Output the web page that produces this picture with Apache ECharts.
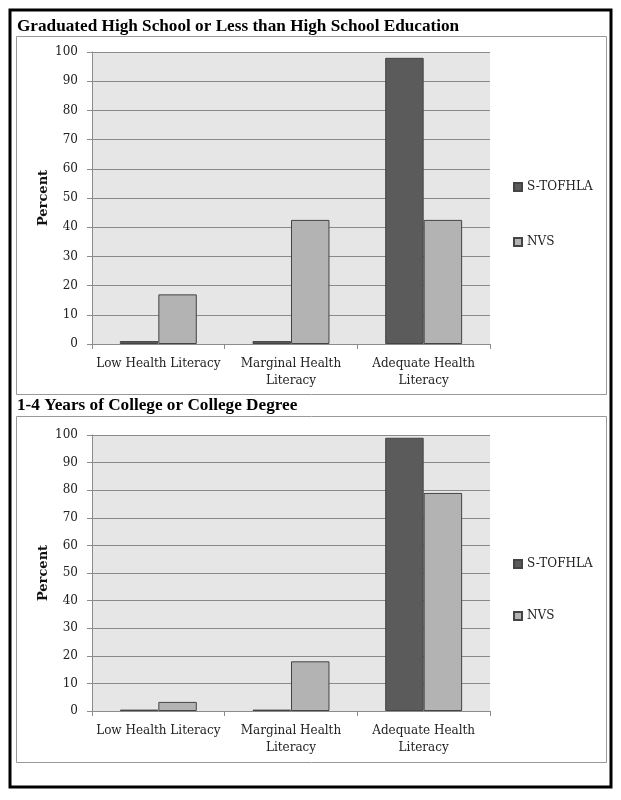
<!DOCTYPE html>
<html>
<head>
<meta charset="UTF-8">
<title>Health literacy by education</title>
<script src="https://cdn.jsdelivr.net/npm/echarts@6/dist/echarts.min.js"></script>
<style>
  html, body { margin: 0; padding: 0; background: #fff; }
  #chart { width: 621px; height: 800px; }
</style>
</head>
<body>
<div id="chart"></div>
<script>
// data
const categories = ['Low Health Literacy', 'Marginal Health\nLiteracy', 'Adequate Health\nLiteracy'];
const seriesNames = ['S-TOFHLA', 'NVS'];
const hsTofhla = [1, 1, 98];
const hsNvs = [17, 42.5, 42.5];
const colTofhla = [0.5, 0.5, 99];
const colNvs = [3.3, 18, 79];
const titles = ['Graduated High School or Less than High School Education', '1-4 Years of College or College Degree'];

const serif = 'DejaVu Serif';
const dark = '#5b5b5b', light = '#b3b3b3';

const chart = echarts.init(document.getElementById('chart'));

function xAxisFor(i) {
  return {
    type: 'category', gridIndex: i, data: categories,
    axisLine: { lineStyle: { color: '#8c8c8c' } },
    axisTick: { show: true, length: 5, lineStyle: { color: '#8c8c8c' } },
    axisLabel: { color: '#222', fontFamily: serif, fontSize: 12, lineHeight: 17, margin: 11, interval: 0 }
  };
}
function yAxisFor(i) {
  return {
    type: 'value', gridIndex: i, min: 0, max: 100, interval: 10,
    name: 'Percent', nameLocation: 'middle', nameRotate: 90, nameGap: 48, nameMoveOverlap: false,
    nameTextStyle: { fontFamily: serif, fontWeight: 'bold', fontSize: 13, color: '#111', verticalAlign: 'middle' },
    axisLine: { show: true, lineStyle: { color: '#8c8c8c' } },
    axisTick: { show: true, length: 5, lineStyle: { color: '#8c8c8c' } },
    axisLabel: { color: '#222', fontFamily: serif, fontSize: 12, margin: 14 },
    splitLine: { lineStyle: { color: '#8a8a8a', width: 1 } }
  };
}
function bar(name, color, data, i) {
  return {
    name: name, type: 'bar', xAxisIndex: i, yAxisIndex: i, data: data,
    barGap: '0%', barCategoryGap: '42%',
    itemStyle: { color: color, borderColor: '#444', borderWidth: 1 },
    silent: true
  };
}
function legendFor(top, gap) {
  return {
    orient: 'vertical', left: 508, top: top, itemGap: gap,
    itemWidth: 8, itemHeight: 8, icon: 'rect',
    data: seriesNames,
    textStyle: { fontFamily: serif, fontSize: 12, color: '#222' },
    selectedMode: false
  };
}

chart.setOption({
  animation: false,
  title: [
    { text: titles[0], left: 12, top: 13, textStyle: { fontFamily: 'Liberation Serif', fontWeight: 'bold', fontSize: 17.2, color: '#000' } },
    { text: titles[1], left: 12, top: 392, textStyle: { fontFamily: 'Liberation Serif', fontWeight: 'bold', fontSize: 17.2, color: '#000' } }
  ],
  graphic: [
    { type: 'rect', shape: { x: 10, y: 10, width: 601, height: 777 }, style: { fill: 'none', stroke: '#000', lineWidth: 3 }, z: -1 },
    { type: 'rect', shape: { x: 16.5, y: 36.5, width: 590, height: 358 }, style: { fill: 'none', stroke: '#999', lineWidth: 1 }, z: -1 },
    { type: 'rect', shape: { x: 16.5, y: 416.5, width: 590, height: 346 }, style: { fill: 'none', stroke: '#999', lineWidth: 1 }, z: -1 }
  ],
  legend: [legendFor(176, 43), legendFor(553, 40)],
  grid: [
    { left: 92, top: 52, width: 398, height: 292, show: true, backgroundColor: '#e6e6e6', borderWidth: 0 },
    { left: 92, top: 435, width: 398, height: 276, show: true, backgroundColor: '#e6e6e6', borderWidth: 0 }
  ],
  xAxis: [xAxisFor(0), xAxisFor(1)],
  yAxis: [yAxisFor(0), yAxisFor(1)],
  series: [
    bar(seriesNames[0], dark, hsTofhla, 0),
    bar(seriesNames[1], light, hsNvs, 0),
    bar(seriesNames[0], dark, colTofhla, 1),
    bar(seriesNames[1], light, colNvs, 1)
  ]
});
</script>
</body>
</html>
